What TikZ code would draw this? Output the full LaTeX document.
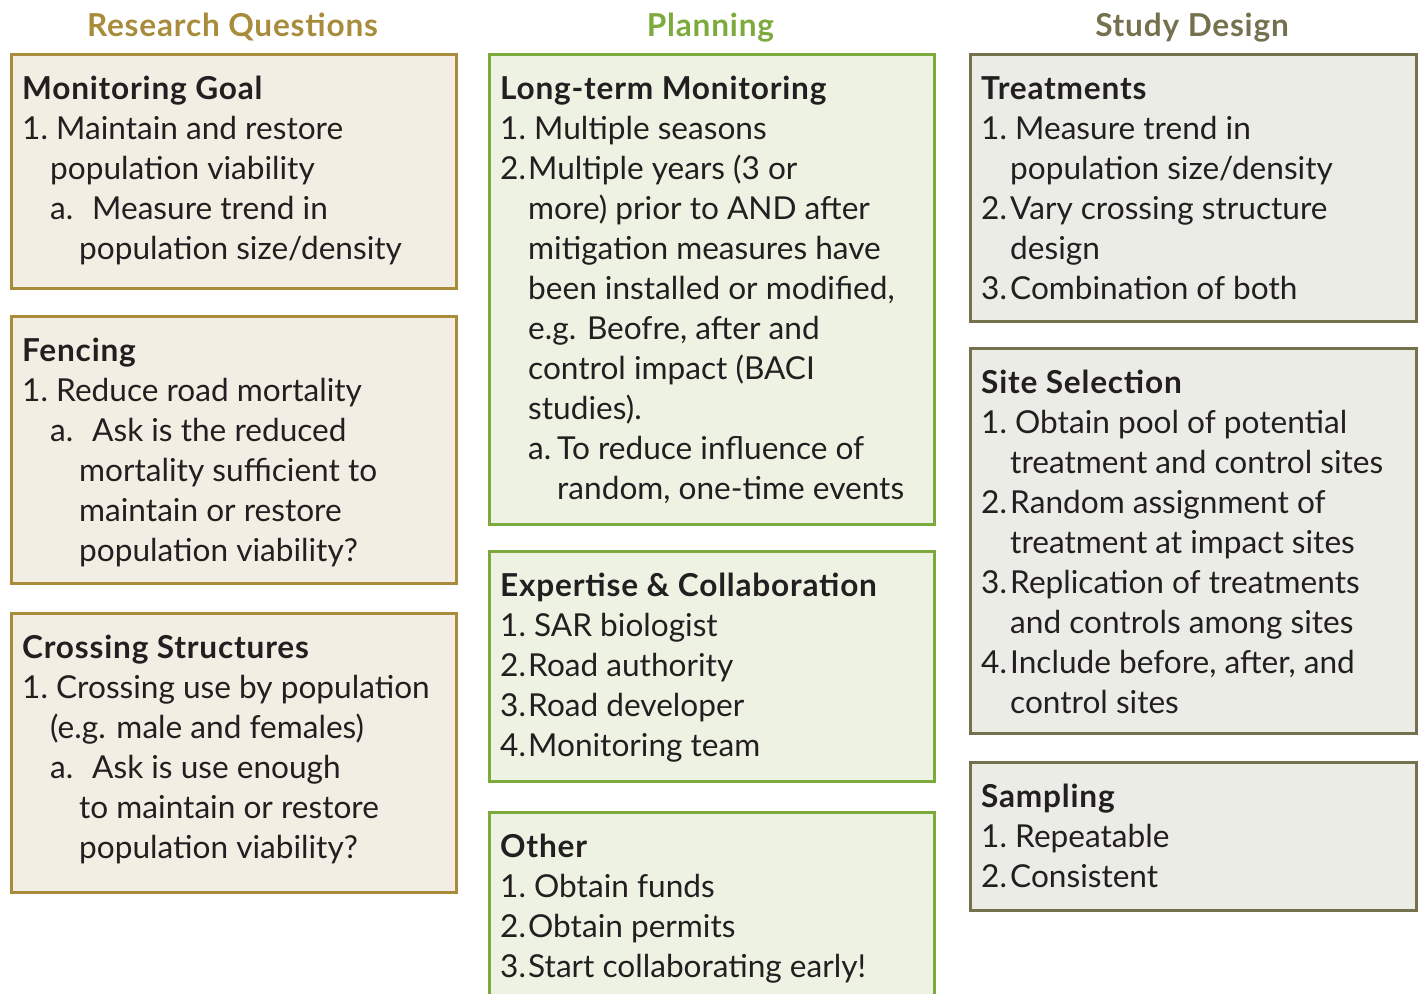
\documentclass[tikz,border=0pt]{standalone}
\usepackage{fontspec}
\setmainfont{Lato}[BoldFeatures={LetterSpace=2.5}]
\usepackage{tikz}
\usepackage{xcolor}

\definecolor{rqcol}{HTML}{A88C3C}
\definecolor{rqfill}{HTML}{F2EEE4}
\definecolor{plcol}{HTML}{7DAA3C}
\definecolor{plfill}{HTML}{EEF2E3}
\definecolor{sdcol}{HTML}{75714F}
\definecolor{sdfill}{HTML}{EBECE6}
\definecolor{ink}{HTML}{231F20}

% first line of a box, with a fixed height so every box starts alike
\newcommand{\hd}[1]{\rule{0pt}{30pt}\textbf{#1}}
\newcommand{\lbl}[2][28]{\makebox[#1pt][l]{#2}}
\newcommand{\ind}[1]{\hspace*{#1pt}}

\begin{document}
\begin{tikzpicture}[x=1pt,y=-1pt]
\useasboundingbox (0,0) rectangle (1420,993);
\begin{scope}[every node/.style={inner sep=0},
  box/.style={rectangle,line width=2.6pt,anchor=north west,minimum width=445},
  txt/.style={anchor=north west,align=left,text=ink,font=\fontsize{31.6}{40}\selectfont},
  head/.style={anchor=base,font=\fontsize{31.6}{40}\selectfont\bfseries}]

% column headings
\node[head,text=rqcol] (rq) at (232.5,36) {Research Questions};
\node[head,text=plcol] (pl) at (710.5,36) {Planning};
\node[head,text=sdcol] (sd) at (1192,36) {Study Design};

% research questions
\node[box,draw=rqcol,fill=rqfill,minimum height=234] (goal) at (10,53) {};
\node[txt] (goal-t) at ([xshift=12pt,yshift=-16pt]goal.north west) {\hd{Monitoring Goal}\\
\lbl[34]{1.}Maintain and restore\\
\ind{28}population viability\\
\ind{28}\lbl[42]{a.}Measure trend in\\
\ind{57}population size/density};

\node[box,draw=rqcol,fill=rqfill,minimum height=267] (fence) at (10,315) {};
\node[txt] (fence-t) at ([xshift=12pt,yshift=-16pt]fence.north west) {\hd{Fencing}\\
\lbl[34]{1.}Reduce road mortality\\
\ind{28}\lbl[42]{a.}Ask is the reduced\\
\ind{57}mortality sufficient to\\
\ind{57}maintain or restore\\
\ind{57}population viability?};

\node[box,draw=rqcol,fill=rqfill,minimum height=279] (cross) at (10,612) {};
\node[txt] (cross-t) at ([xshift=12pt,yshift=-16pt]cross.north west) {\hd{Crossing Structures}\\
\lbl[34]{1.}Crossing use by population\\
\ind{28}(e.g. male and females)\\
\ind{28}\lbl[42]{a.}Ask is use enough\\
\ind{57}to maintain or restore\\
\ind{57}population viability?};

% planning
\node[box,draw=plcol,fill=plfill,minimum height=470] (long) at (488,53) {};
\node[txt] (long-t) at ([xshift=12pt,yshift=-16pt]long.north west) {\hd{Long-term Monitoring}\\
\lbl[34]{1.}Multiple seasons\\
\lbl{2.}Multiple years (3 or\\
\ind{28}more) prior to AND after\\
\ind{28}mitigation measures have\\
\ind{28}been installed or modified,\\
\ind{28}e.g. Beofre, after and\\
\ind{28}control impact (BACI\\
\ind{28}studies).\\
\ind{28}\lbl[29]{a.}To reduce influence of\\
\ind{57}random, one-time events};

\node[box,draw=plcol,fill=plfill,minimum height=230] (expert) at (488,550) {};
\node[txt] (expert-t) at ([xshift=12pt,yshift=-16pt]expert.north west) {\hd{Expertise \& Collaboration}\\
\lbl[34]{1.}SAR biologist\\
\lbl{2.}Road authority\\
\lbl{3.}Road developer\\
\lbl{4.}Monitoring team};

\node[box,draw=plcol,fill=plfill,minimum height=220] (other) at (488,811) {};
\node[txt] (other-t) at ([xshift=12pt,yshift=-16pt]other.north west) {\hd{Other}\\
\lbl[34]{1.}Obtain funds\\
\lbl{2.}Obtain permits\\
\lbl{3.}Start collaborating early!};

% study design
\node[box,draw=sdcol,fill=sdfill,minimum width=446,minimum height=267] (treat) at (969,53) {};
\node[txt] (treat-t) at ([xshift=12pt,yshift=-16pt]treat.north west) {\hd{Treatments}\\
\lbl[34]{1.}Measure trend in\\
\ind{29}population size/density\\
\lbl[29]{2.}Vary crossing structure\\
\ind{29}design\\
\lbl[29]{3.}Combination of both};

\node[box,draw=sdcol,fill=sdfill,minimum width=446,minimum height=385] (site) at (969,347) {};
\node[txt] (site-t) at ([xshift=12pt,yshift=-16pt]site.north west) {\hd{Site Selection}\\
\lbl[34]{1.}Obtain pool of potential\\
\ind{29}treatment and control sites\\
\lbl[29]{2.}Random assignment of\\
\ind{29}treatment at impact sites\\
\lbl[29]{3.}Replication of treatments\\
\ind{29}and controls among sites\\
\lbl[29]{4.}Include before, after, and\\
\ind{29}control sites};

\node[box,draw=sdcol,fill=sdfill,minimum width=446,minimum height=148] (samp) at (969,761) {};
\node[txt] (samp-t) at ([xshift=12pt,yshift=-16pt]samp.north west) {\hd{Sampling}\\
\lbl[34]{1.}Repeatable\\
\lbl[29]{2.}Consistent};

\end{scope}
\end{tikzpicture}
\end{document}
